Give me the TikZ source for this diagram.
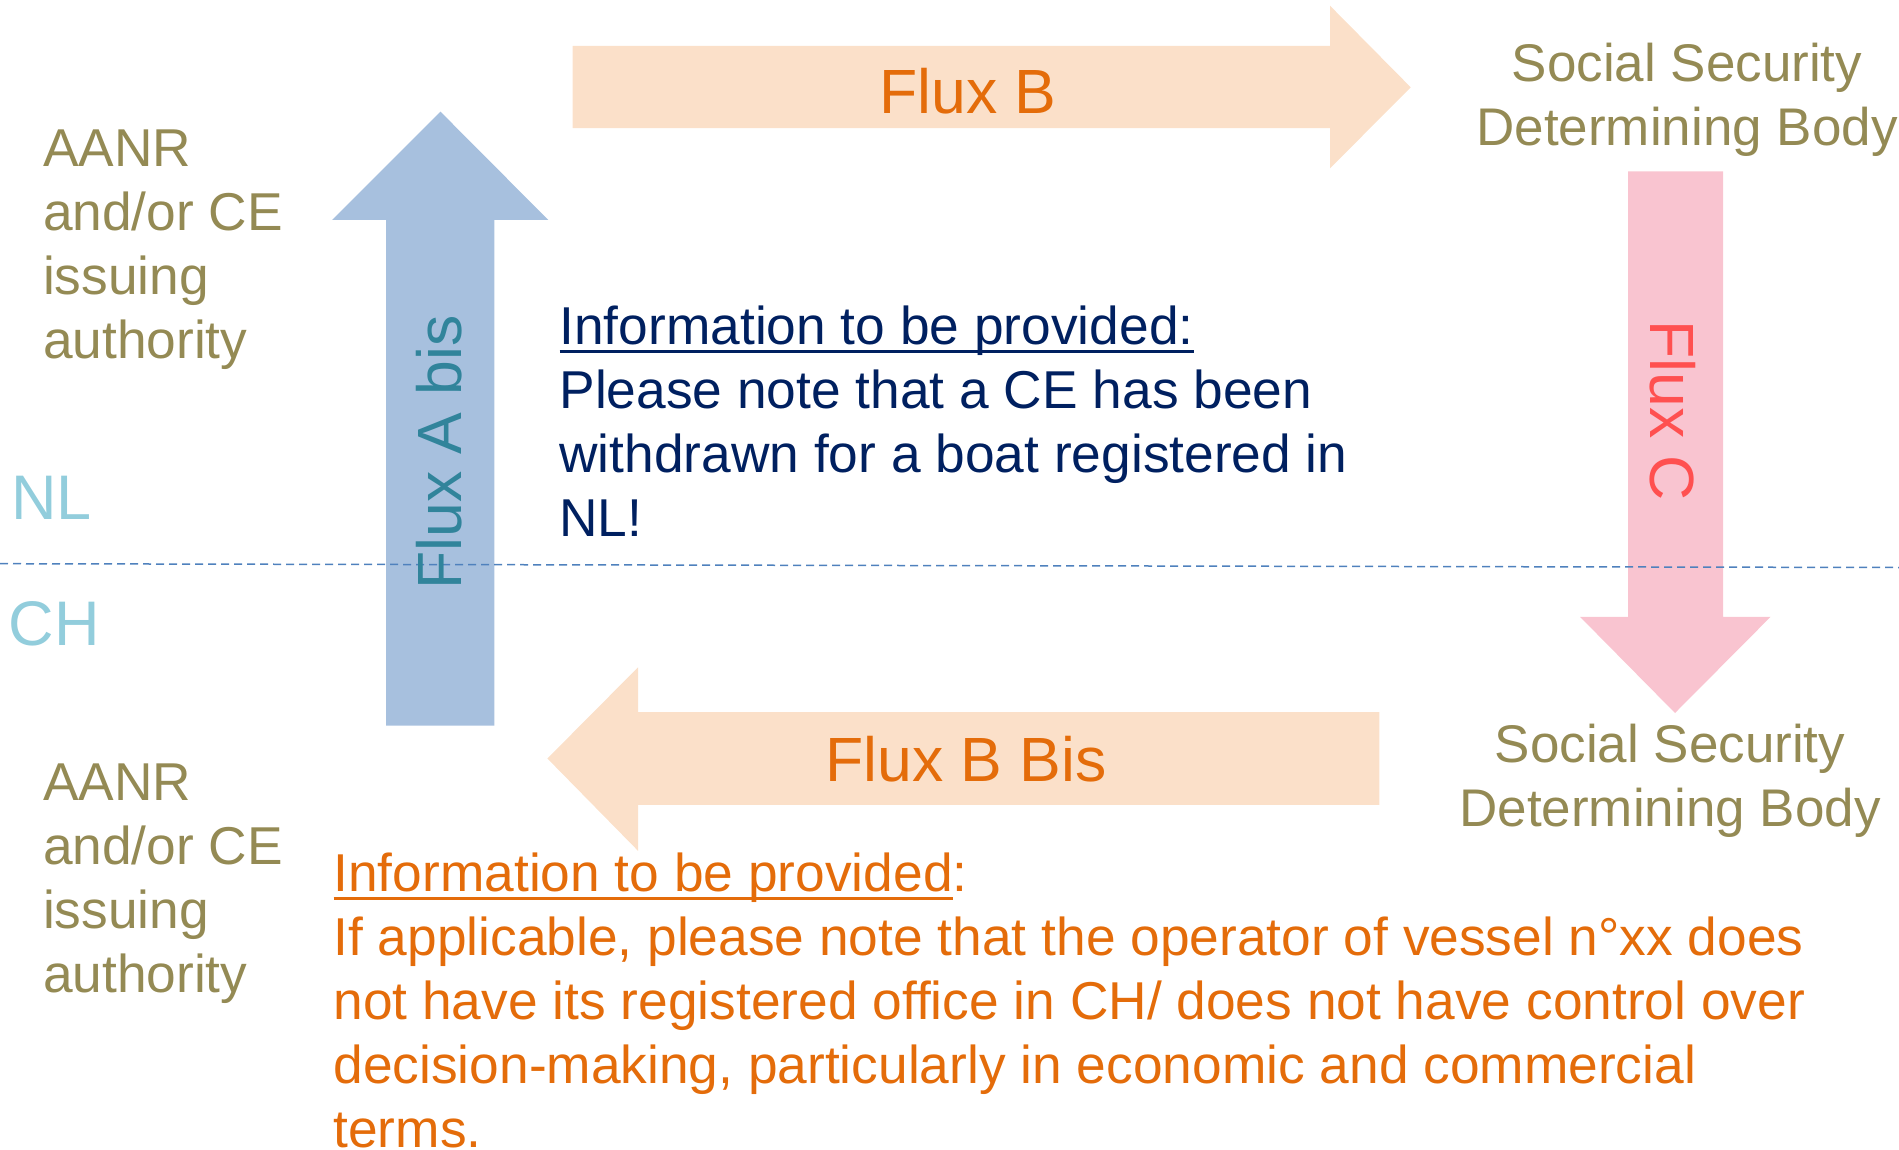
\documentclass[tikz,border=0pt]{standalone}
\usepackage{fontspec}
\setmainfont{Liberation Sans}
\definecolor{txtolive}{HTML}{948A54}
\definecolor{txtaqua}{HTML}{92CDDC}
\definecolor{txtorange}{HTML}{E46C0A}
\definecolor{txtnavy}{HTML}{002060}
\definecolor{txtteal}{HTML}{31849B}
\definecolor{txtred}{HTML}{FF5050}
\definecolor{fillpeach}{HTML}{FBE0C9}
\definecolor{fillblue}{HTML}{A7C0DE}
\definecolor{fillpink}{HTML}{F9C4D0}
\definecolor{dashblue}{HTML}{4F81BD}
\newsavebox\ulbox
\newcommand{\ulx}[1]{\sbox\ulbox{#1}\rlap{\rule[-8.5pt]{\wd\ulbox}{3pt}}\usebox\ulbox}
\begin{document}
\begin{tikzpicture}[x=1pt,y=-1pt,
  lbl/.style={inner sep=0pt,outer sep=0pt},
  bodytext/.style={lbl,font=\fontsize{53.3}{64}\selectfont,align=left,anchor=base west},
  ssdb/.style={lbl,font=\fontsize{53}{64}\selectfont,align=center,text=txtolive},
  fluxlbl/.style={lbl,font=\fontsize{62.5}{74}\selectfont},
  country/.style={lbl,font=\fontsize{63}{74}\selectfont,text=txtaqua,anchor=base west},
  dashline/.style={draw=dashblue,line width=1.5pt,dash pattern=on 8pt off 5pt}]
\useasboundingbox (0,0) rectangle (1899,1150);
% arrows
\fill[fillpeach] (572.5,45.9) -- (1330,45.9) -- (1330,5.7) -- (1410.7,87.3) -- (1330,168.4) -- (1330,128.2) -- (572.5,128.2) -- cycle;
\fill[fillblue] (386,725.6) -- (386,220) -- (332,220) -- (440.5,111.7) -- (548.3,220) -- (494.4,220) -- (494.4,725.6) -- cycle;
\fill[fillpink] (1628,171.4) -- (1723,171.4) -- (1723,616.8) -- (1770.6,616.8) -- (1675,713) -- (1580,616.8) -- (1628,616.8) -- cycle;
\fill[fillpeach] (1379.4,712.2) -- (638,712.2) -- (638,667.3) -- (547.4,758.5) -- (638,850.8) -- (638,804.8) -- (1379.4,804.8) -- cycle;
% border line
\coordinate (dl) at (0,563.7);
\coordinate (dr) at (1899,567.5);
\draw[dashline] (dl) -- (dr);
% arrow labels
\node[fluxlbl,text=txtorange,anchor=base] (fb) at (968,113.7) {Flux B};
\node[fluxlbl,text=txtorange,anchor=base] (fbb) at (966,781.3) {Flux B Bis};
\node[fluxlbl,text=txtteal,rotate=90] (fab) at (439.5,452.5) {Flux A bis};
\node[fluxlbl,text=txtred,rotate=-90] (fc) at (1672.5,410.5) {Flux C};
% country labels
\node[country] (nl) at (11.5,519.3) {NL};
\node[country] (ch) at (9,645) {CH};
% authorities (anchor = baseline of last line)
\node[bodytext,text=txtolive] (aanrtop) at (43,358.6) {AANR\\and/or CE\\issuing\\authority};
\node[bodytext,text=txtolive] (aanrbot) at (43,992.2) {AANR\\and/or CE\\issuing\\authority};
\node[ssdb,anchor=base] (sstop) at (1687,145.4) {Social Security\\Determining Body};
\node[ssdb,anchor=base] (ssbot) at (1670,826) {Social Security\\Determining Body};
% information texts
\node[bodytext,text=txtnavy] (infonl) at (559.5,536) {\ulx{Information to be provided:}\\Please note that a CE has been\\withdrawn for a boat registered in\\NL!};
\node[bodytext,text=txtorange] (infoch) at (333.5,1147) {\ulx{Information to be provided}:\\If applicable, please note that the operator of vessel n°xx does\\not have its registered office in CH/ does not have control over\\decision-making, particularly in economic and commercial\\terms.};
\end{tikzpicture}
\end{document}
